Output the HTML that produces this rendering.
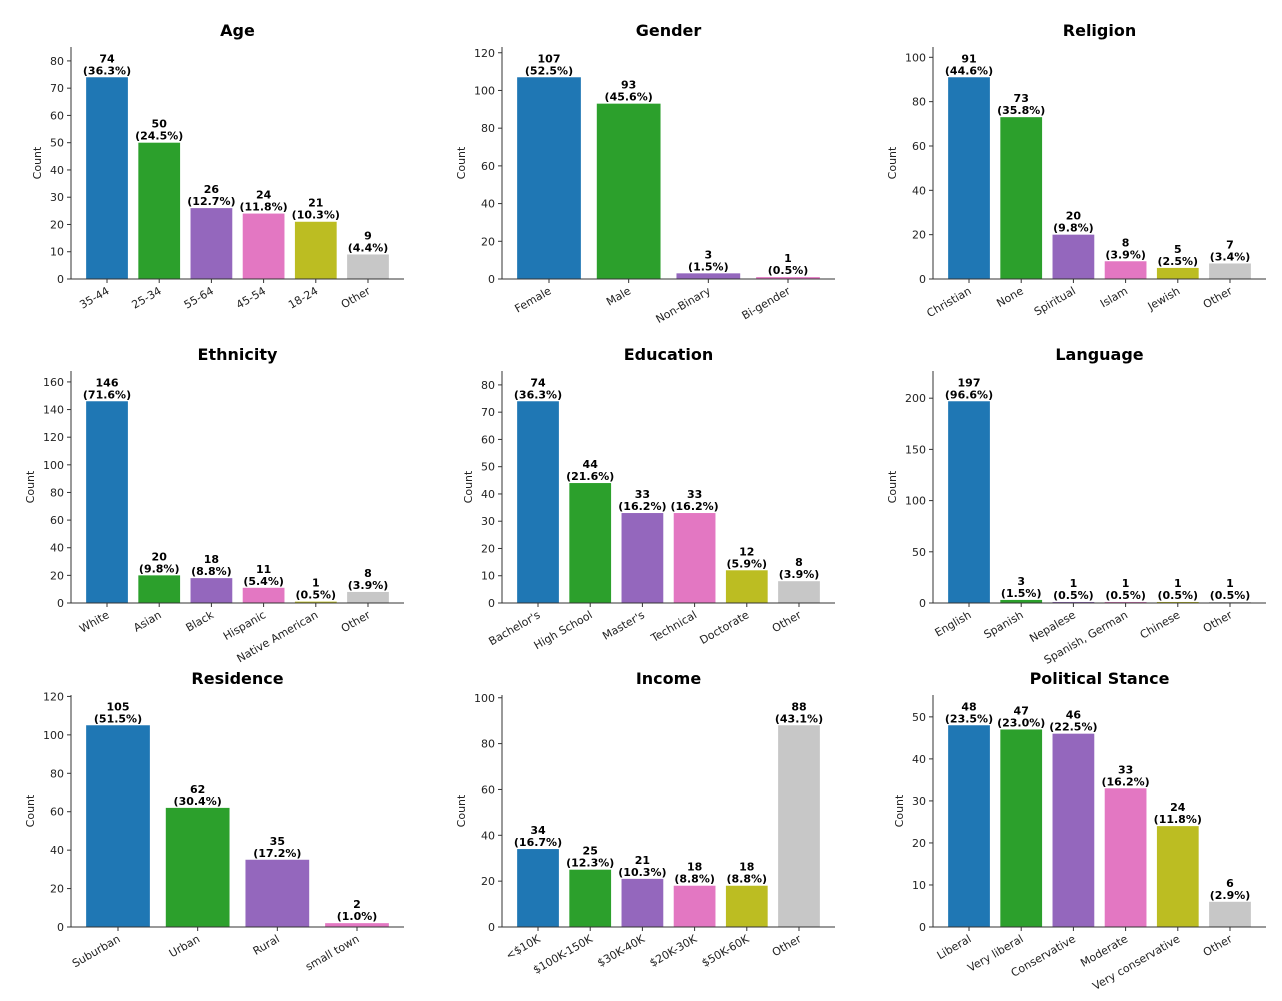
<!DOCTYPE html>
<html><head><meta charset="utf-8"><style>
body{margin:0;background:#fff;}
svg{display:block;font-family:"DejaVu Sans","Liberation Sans",sans-serif;}
</style></head><body>
<svg id="c" width="1282" height="1001" viewBox="0 0 1282 1001"></svg>
<script>
const titles=["Age","Gender","Religion","Ethnicity","Education","Language","Residence","Income","Political Stance"];
const categories=[
["35-44","25-34","55-64","45-54","18-24","Other"],
["Female","Male","Non-Binary","Bi-gender"],
["Christian","None","Spiritual","Islam","Jewish","Other"],
["White","Asian","Black","Hispanic","Native American","Other"],
["Bachelor's","High School","Master's","Technical","Doctorate","Other"],
["English","Spanish","Nepalese","Spanish, German","Chinese","Other"],
["Suburban","Urban","Rural","small town"],
["<$10K","$100K-150K","$30K-40K","$20K-30K","$50K-60K","Other"],
["Liberal","Very liberal","Conservative","Moderate","Very conservative","Other"]];
const counts=[
[74,50,26,24,21,9],
[107,93,3,1],
[91,73,20,8,5,7],
[146,20,18,11,1,8],
[74,44,33,33,12,8],
[197,3,1,1,1,1],
[105,62,35,2],
[34,25,21,18,18,88],
[48,47,46,33,24,6]];
const percents=[
["36.3","24.5","12.7","11.8","10.3","4.4"],
["52.5","45.6","1.5","0.5"],
["44.6","35.8","9.8","3.9","2.5","3.4"],
["71.6","9.8","8.8","5.4","0.5","3.9"],
["36.3","21.6","16.2","16.2","5.9","3.9"],
["96.6","1.5","0.5","0.5","0.5","0.5"],
["51.5","30.4","17.2","1.0"],
["16.7","12.3","10.3","8.8","8.8","43.1"],
["23.5","23.0","22.5","16.2","11.8","2.9"]];
const yTicks=[
[0,10,20,30,40,50,60,70,80],
[0,20,40,60,80,100,120],
[0,20,40,60,80,100],
[0,20,40,60,80,100,120,140,160],
[0,10,20,30,40,50,60,70,80],
[0,50,100,150,200],
[0,20,40,60,80,100,120],
[0,20,40,60,80,100],
[0,10,20,30,40,50]];
const colors=["#1f77b4","#2ca02c","#9467bd","#e377c2","#bcbd22","#c7c7c7"];
const svg=document.getElementById('c');
const NS="http://www.w3.org/2000/svg";
function mk(tag,attrs,parent){const e=document.createElementNS(NS,tag);for(const k in attrs)e.setAttribute(k,attrs[k]);parent.appendChild(e);return e;}
const colX=[71,502,933], rowB=[279,603,927], W=333, H=232;
for(let p=0;p<9;p++){
  const ax=colX[p%3], by=rowB[Math.floor(p/3)], ty=by-H;
  const g=mk('g',{},svg);
  
  
  const cats=categories[p], vals=counts[p], n=cats.length;
  const ymax=Math.max(...vals)*1.15;
  const y=v=>by-v/ymax*H;
  const span=(n-1)+0.8, lo=-0.4-span*0.05, hi=n-1+0.4+span*0.05;
  const x=i=>ax+(i-lo)/(hi-lo)*W;
  const bw=0.8/(hi-lo)*W;
  const t=mk('text',{x:ax+W/2,y:ty-11,'text-anchor':'middle','font-size':'16','font-weight':'bold',fill:'#000'},g);
  t.textContent=titles[p];
  
  
  vals.forEach((v,i)=>{
    const col=(cats[i]==="Other")?colors[5]:colors[i];
    const r=mk('rect',{x:x(i)-bw/2,y:y(v),width:bw,height:by-y(v),fill:col},g);
    
    
    const l=mk('text',{x:x(i),'text-anchor':'middle','font-size':'11','font-weight':'bold',fill:'#000'},g);
    
    
    const a=mk('tspan',{x:x(i),y:y(v)-15},l);a.textContent=v;
    const b=mk('tspan',{x:x(i),y:y(v)-3},l);b.textContent='('+percents[p][i]+'%)';
    mk('line',{x1:x(i),x2:x(i),y1:by,y2:by+4,stroke:'#333','stroke-width':1},g);
    const tl=mk('text',{transform:`translate(${x(i)+3},${by+14}) rotate(-30)`,'text-anchor':'end','font-size':'11',fill:'#222'},g);
    tl.textContent=cats[i];
    
    
  });
  let maxc=0;
  yTicks[p].forEach(v=>{
    mk('line',{x1:ax-4,x2:ax,y1:y(v),y2:y(v),stroke:'#333','stroke-width':1},g);
    const tt=mk('text',{x:ax-7,y:y(v)+4,'text-anchor':'end','font-size':'11',fill:'#222'},g);
    tt.textContent=v;
    
    
    maxc=Math.max(maxc,String(v).length);
  });
  mk('line',{x1:ax,x2:ax,y1:ty,y2:by,stroke:'#333','stroke-width':1},g);
  mk('line',{x1:ax,x2:ax+W,y1:by,y2:by,stroke:'#333','stroke-width':1},g);
  const lx=ax-8-maxc*7-8;
  const yl=mk('text',{transform:`translate(${lx},${(ty+by)/2}) rotate(-90)`,'text-anchor':'middle','font-size':'11',fill:'#222'},g);
  yl.textContent='Count';
  
  
}
</script>
</body></html>
